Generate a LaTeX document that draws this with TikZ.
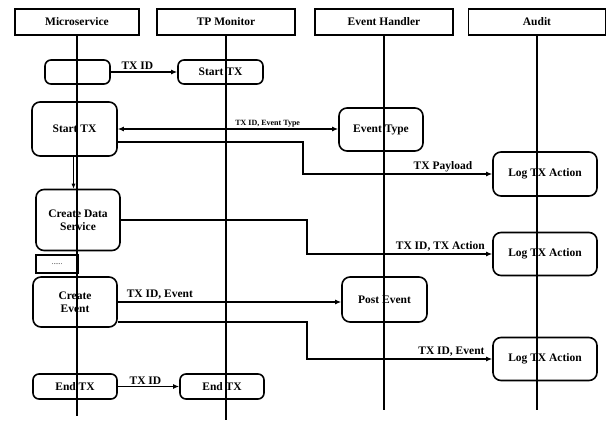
\documentclass[tikz,border=0pt]{standalone}
\usepackage{fontspec}
\setmainfont{Liberation Serif}
\usepackage{tikz}
\usetikzlibrary{arrows.meta, positioning, calc}

\begin{document}
\begin{tikzpicture}[
    x=1pt, y=-1pt,
    header/.style={rectangle, draw, line width=1.8pt, minimum height=26pt, font=\fontsize{11.5}{13}\selectfont\bfseries, inner sep=0pt},
    component/.style={rectangle, draw, line width=1.6pt, rounded corners=6pt, minimum height=24pt, font=\fontsize{11.5}{13.5}\selectfont\bfseries, align=center, inner sep=0pt},
    lifeline/.style={line width=1.9pt},
    conn/.style={-{Latex[length=6pt, width=5pt]}, line width=1.5pt},
    biconn/.style={{Latex[length=6pt, width=5pt]}-{Latex[length=6pt, width=5pt]}, line width=1.5pt},
    thinconn/.style={-{Latex[length=5pt, width=4pt]}, line width=0.7pt},
    msg/.style={font=\fontsize{11.5}{13}\selectfont\bfseries, inner sep=1.5pt}
]
    \useasboundingbox (0,0) rectangle (608,421);

    % Participants
    \node[header, minimum width=124pt] (micro) at (77,22) {Microservice};
    \node[header, minimum width=138pt] (tpmon) at (226,22) {TP Monitor};
    \node[header, minimum width=138pt] (evhandler) at (384,22) {Event Handler};
    \node[header, minimum width=137pt] (audit) at (537,22) {Audit};

    \coordinate (microend) at (77,416);
    \coordinate (tpmonend) at (226,420);
    \coordinate (evhandlerend) at (384,410);
    \coordinate (auditend) at (537,410);

    % Microservice steps
    \node[component, minimum width=65pt] (blank) at (77.5,72) {};
    \node[component, minimum width=85pt, minimum height=54pt, rounded corners=8pt] (starttx) at (74.5,129) {Start TX};
    \node[component, minimum width=84pt, minimum height=61pt, rounded corners=8pt] (createds) at (78,220) {Create Data\\Service};
    \node[rectangle, draw, line width=1.4pt, minimum width=42pt, minimum height=18pt, inner sep=0pt, font=\fontsize{7}{8}\selectfont] (dots) at (57,264) {......};
    \node[component, minimum width=84pt, minimum height=50pt, rounded corners=8pt] (createev) at (75,302) {Create\\Event};
    \node[component, minimum width=84pt, minimum height=25pt] (endtxa) at (75,386.5) {End TX};

    % TP Monitor steps
    \node[component, minimum width=85pt] (starttxb) at (220.5,72) {Start TX};
    \node[component, minimum width=84pt, minimum height=25pt] (endtxb) at (222,386.5) {End TX};

    % Event Handler steps
    \node[component, minimum width=84pt, minimum height=43pt, rounded corners=8pt] (evtype) at (381,129.5) {Event Type};
    \node[component, minimum width=85pt, minimum height=45pt, rounded corners=8pt] (postev) at (384.5,299.5) {Post Event};

    % Audit steps
    \node[component, minimum width=104pt, minimum height=44pt, rounded corners=8pt] (loga) at (545,174) {Log TX Action};
    \node[component, minimum width=104pt, minimum height=43pt, rounded corners=8pt] (logb) at (545,254) {Log TX Action};
    \node[component, minimum width=104pt, minimum height=43pt, rounded corners=8pt] (logc) at (545,359) {Log TX Action};

    % Lifelines
    \draw[lifeline] (micro) -- (microend);
    \draw[lifeline] (tpmon) -- (tpmonend);
    \draw[lifeline] (evhandler) -- (evhandlerend);
    \draw[lifeline] (audit) -- (auditend);

    % Messages
    \draw[conn] (blank.east) -- node[msg, above, pos=0.4] {TX ID} (starttxb.west);
    \draw[biconn] (starttx.east) -- node[msg, above, pos=0.68, font=\fontsize{8}{9}\selectfont\bfseries] {TX ID, Event Type} (starttx.east -| evtype.west);
    \draw[conn] ([yshift=-13pt]starttx.east) -- ++(185,0) |- node[msg, above, pos=0.87] {TX Payload} (loga.west);
    \draw[thinconn] ([xshift=-1pt]starttx.south) -- ([xshift=-1pt]starttx.south |- createds.north);
    \draw[conn] (createds.east) -- ++(186,0) |- node[msg, above, pos=0.86] {TX ID, TX Action} (logb.west);
    \draw[conn] (createev.east) -- node[msg, above right, pos=0.03] {TX ID, Event} (createev.east -| postev.west);
    \draw[conn] ([yshift=-20pt]createev.east) -- ++(189,0) |- node[msg, above, pos=0.89] {TX ID, Event} (logc.west);
    \draw[conn] (endtxa.east) -- node[msg, above, pos=0.45] {TX ID} (endtxb.west);

\end{tikzpicture}
\end{document}
